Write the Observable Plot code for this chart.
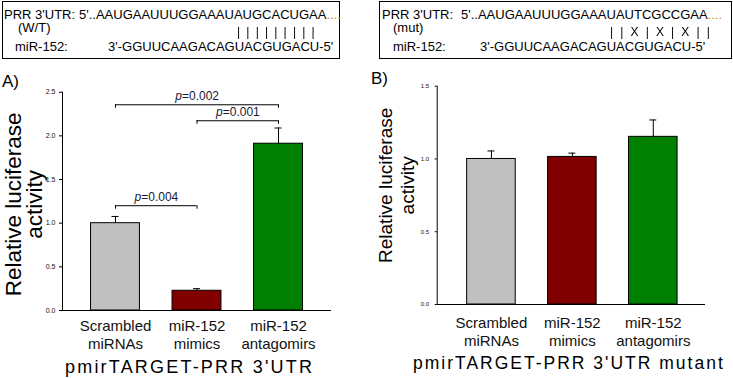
<!DOCTYPE html>
<html>
<head>
<meta charset="utf-8">
<script src="https://cdn.jsdelivr.net/npm/d3@7"></script>
<script src="https://cdn.jsdelivr.net/npm/@observablehq/plot@0.6"></script>
<style>
  html, body { margin: 0; padding: 0; background: #fff; }
  #root { position: relative; width: 733px; height: 378px; overflow: hidden; background: #fff;
          font-family: "Liberation Sans", Arial, sans-serif; color: #000; }
  .box { position: absolute; box-sizing: border-box; border: 1px solid #000; }
  .t { position: absolute; white-space: pre; font-size: 13px; line-height: 1; }
  .dots { color: #d98a2b; }
  .bars { font-size: 12px; letter-spacing: 6.2px; filter: grayscale(1); }
  .lbl { position: absolute; white-space: pre; font-size: 17px; line-height: 1; }
  .title { position: absolute; white-space: pre; font-size: 18px; line-height: 1; letter-spacing: 2.2px; }
  .plot { position: absolute; top: 0; }
  svg { overflow: visible; }
</style>
</head>
<body>
<div id="root">
  <div class="box" style="left:2px;top:1px;width:338px;height:58px"></div>
  <div class="box" style="left:379px;top:1px;width:353px;height:58px"></div>

  <span class="t" style="left:4px;top:7.5px">PRR 3'UTR:</span>
  <span class="t" style="left:79px;top:7.5px">5'..AAUGAAUUUGGAAAUAUGCACUGAA<span class="dots">....</span></span>
  <span class="t" style="left:18px;top:21px">(W/T)</span>
  <span class="t bars" style="left:237px;top:25.5px">|||||||||</span>
  <span class="t" style="left:15px;top:39.5px">miR-152:</span>
  <span class="t" style="left:108px;top:39.5px">3'-GGUUCAAGACAGUACGUGACU-5'</span>

  <span class="t" style="left:382px;top:7.5px">PRR 3'UTR:</span>
  <span class="t" style="left:461px;top:7.5px">5'..AAUGAAUUUGGAAAUAUTCGCCGAA<span class="dots">....</span></span>
  <span class="t" style="left:393px;top:21px">(mut)</span>
  <span class="t bars" style="left:610px;top:25.5px;letter-spacing:1.9px">| | X | X | X | |</span>
  <span class="t" style="left:393px;top:39.5px">miR-152:</span>
  <span class="t" style="left:480px;top:39.5px">3'-GGUUCAAGACAGUACGUGACU-5'</span>

  <div id="A" class="plot" style="left:0px"></div>
  <div id="B" class="plot" style="left:366px"></div>

  <span class="lbl" style="left:2px;top:73px">A)</span>
  <span class="lbl" style="left:371px;top:70px">B)</span>

  <span class="title" style="left:65px;top:357.5px">pmirTARGET-PRR 3'UTR</span>
  <span class="title" style="left:413px;top:354.5px;font-size:17.5px;letter-spacing:2px">pmirTARGET-PRR 3'UTR mutant</span>
</div>
<script>
// ---- data ----
const categories = ["Scrambled\nmiRNAs", "miR-152\nmimics", "miR-152\nantagomirs"];
const colors = ["#c0c0c0", "#800000", "#008000"];

const valuesA = [1.0, 0.226, 1.91];
const errorsA = [0.077, 0.024, 0.18];

const valuesB = [1.0, 1.014, 1.152];
const errorsB = [0.055, 0.026, 0.116];

const bracketFrom = [0, 0, 1];
const bracketTo = [1, 2, 2];
const bracketHeight = [1.20, 2.356, 2.173];
const bracketP = ["=0.004", "=0.002", "=0.001"];

const yTicksA = [0, 0.5, 1.0, 1.5, 2.0, 2.5];
const yTicksB = [0, 0.5, 1.0, 1.5];
const yLabel = "Relative luciferase\nactivity";

// ---- tables ----
const rows = (vals, errs) => vals.map((v, i) => ({i, cat: categories[i], value: v, top: v + errs[i], color: colors[i]}));
const dataA = rows(valuesA, errorsA);
const dataB = rows(valuesB, errorsB);
const brackets = bracketFrom.map((f, k) => ({x1: f, x2: bracketTo[k], mid: (f + bracketTo[k]) / 2, h: bracketHeight[k], p: bracketP[k]}));
const bracketEnds = brackets.flatMap(b => [{x: b.x1, h: b.h}, {x: b.x2, h: b.h}]);

const font = "Liberation Sans, Arial, sans-serif";
const halfBar = 0.3;

function panel(data, opts) {
  const marks = [
    Plot.rectY(data, {x1: d => d.i - halfBar, x2: d => d.i + halfBar, y1: 0, y2: "value", fill: "color", stroke: "#000", strokeWidth: 1}),
    Plot.ruleX(data, {x: "i", y1: "value", y2: "top", stroke: "#000", strokeWidth: 1}),
    Plot.ruleY(data, {x1: "i", x2: "i", y: "top", insetLeft: -3.5, insetRight: -3.5, stroke: "#000", strokeWidth: 1}),
    Plot.ruleY([0], {stroke: "#000", strokeWidth: 1}),
    Plot.ruleX([opts.xDomain[0]], {stroke: "#000", strokeWidth: 1}),
    Plot.axisY({ticks: opts.yTicks, tickFormat: d3.format(".1f"), tickSize: opts.tickSize, tickPadding: opts.tickPadding,
                fontSize: opts.tickFont, fill: "#111", label: null}),
    Plot.axisX({ticks: [0, 1, 2], tickFormat: i => categories[i], tickSize: 0, tickPadding: opts.xPad,
                fontSize: 15, lineHeight: opts.xLineHeight, fill: "#111", label: null}),
    Plot.text([yLabel], {frameAnchor: "left", dx: opts.yLabelDx, dy: opts.yLabelDy, rotate: -90, fontSize: opts.yLabelFont,
                lineHeight: opts.yLabelLH, textAnchor: "middle", lineAnchor: "middle", fill: "#000"})
  ];
  if (opts.brackets) {
    marks.push(
      Plot.ruleY(brackets, {x1: "x1", x2: "x2", y: "h", stroke: "#000", strokeWidth: 1}),
      Plot.ruleX(bracketEnds, {x: "x", y1: "h", y2: "h", insetBottom: -3.5, stroke: "#000", strokeWidth: 1}),
      Plot.text(brackets, {x: "mid", y: "h", text: () => "p", dx: -15, dy: -5, textAnchor: "end", lineAnchor: "bottom",
                fontSize: 12, fontStyle: "italic", fill: "#1a1a3a"}),
      Plot.text(brackets, {x: "mid", y: "h", text: "p", dx: -15, dy: -5, textAnchor: "start", lineAnchor: "bottom",
                fontSize: 12, fill: "#1a1a3a"})
    );
  }
  return Plot.plot({
    width: opts.width, height: 378,
    marginLeft: opts.ml, marginRight: opts.mr, marginTop: opts.mt, marginBottom: opts.mb,
    style: {fontFamily: font, background: "transparent", overflow: "visible"},
    x: {type: "linear", domain: opts.xDomain, axis: null},
    y: {domain: opts.yDomain, axis: null},
    marks
  });
}

document.getElementById("A").append(panel(dataA, {
  width: 366, ml: 62, mr: 35, mt: 91.7, mb: 68,
  xDomain: [-0.65, 2.65], yDomain: [0, 2.5], yTicks: yTicksA,
  tickSize: 3, tickPadding: 4, tickFont: 7, xPad: 7, xLineHeight: 1.23,
  yLabelDx: -38, yLabelDy: 3, yLabelFont: 22.5, yLabelLH: 0.93, brackets: true
}));

document.getElementById("B").append(panel(dataB, {
  width: 367, ml: 70.7, mr: 28, mt: 85.7, mb: 74,
  xDomain: [-0.67, 2.645], yDomain: [0, 1.5], yTicks: yTicksB,
  tickSize: 2, tickPadding: 6, tickFont: 6, xPad: 11, xLineHeight: 1.2,
  yLabelDx: -41.7, yLabelDy: -10, yLabelFont: 19, yLabelLH: 1.16, brackets: false
}));
</script>
</body>
</html>
